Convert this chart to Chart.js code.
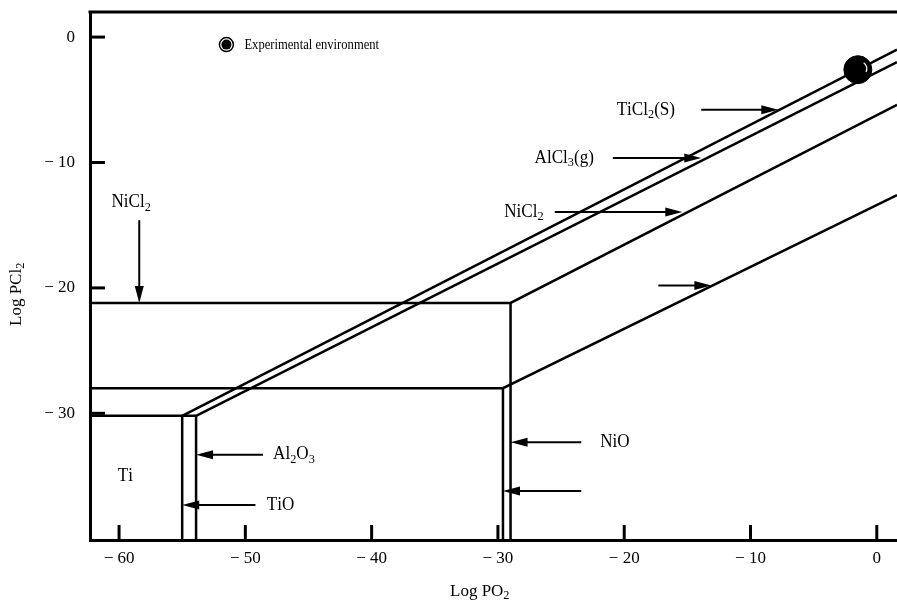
<!DOCTYPE html>
<html>
<head>
<meta charset="utf-8">
<script src="https://cdn.jsdelivr.net/npm/chart.js@4/dist/chart.umd.min.js"></script>
<style>
  html, body { margin: 0; padding: 0; background: #fff; overflow: hidden; }
  canvas { display: block; }
</style>
</head>
<body>
<canvas id="chart" width="897" height="604" style="width:897px;height:604px"></canvas>
<script>
// Axis ticks (Log PO2 / Log PCl2)
const xTicks = [-60, -50, -40, -30, -20, -10, 0];
const yTicks = [0, -10, -20, -30];

// Phase boundaries
const niCl2BoundX = [-62.3, -29.0, 1.6];
const niCl2BoundY = [-21.2, -21.2, -5.4];
const niBoundX = [-62.3, -29.6, 1.6];
const niBoundY = [-28.0, -28.0, -12.6];
const tiBoundX = [-62.3, -53.9];
const tiBoundY = [-30.2, -30.2];
const tiCl2X = [-55.0, 1.6];
const tiCl2Y = [-30.2, -1.0];
const alCl3X = [-53.9, 1.6];
const alCl3Y = [-30.2, -2.0];
const tiOX = [-55.0, -55.0];
const tiOY = [-30.2, -40.1];
const al2O3X = [-53.9, -53.9];
const al2O3Y = [-30.2, -40.1];
const niOX = [-29.0, -29.0];
const niOY = [-21.2, -40.1];
const niX = [-29.6, -29.6];
const niY = [-28.0, -40.1];

// Experimental environment point
const expX = [-1.5];
const expY = [-2.6];

// Labels and arrows (data coordinates)
const labels = [
    { text: 'TiCl_2(S)', x: -20.6, y: -5.8 },
    { text: 'AlCl_3(g)', x: -27.1, y: -9.65 },
    { text: 'NiCl_2', x: -29.5, y: -13.95 },
    { text: 'NiCl_2', x: -60.6, y: -13.2 },
    { text: 'Ti', x: -60.1, y: -35.0 },
    { text: 'Al_2O_3', x: -47.8, y: -33.3 },
    { text: 'TiO', x: -48.3, y: -37.3 },
    { text: 'NiO', x: -21.9, y: -32.3 }
];
const arrows = [
    { x0: -13.9, y0: -5.8, x1: -7.8, y1: -5.8 },
    { x0: -20.9, y0: -9.65, x1: -13.9, y1: -9.65 },
    { x0: -25.5, y0: -13.95, x1: -15.4, y1: -13.95 },
    { x0: -17.3, y0: -19.8, x1: -13.1, y1: -19.8 },
    { x0: -58.4, y0: -14.6, x1: -58.4, y1: -21.2 },
    { x0: -48.6, y0: -33.3, x1: -53.9, y1: -33.3 },
    { x0: -49.2, y0: -37.3, x1: -55.0, y1: -37.3 },
    { x0: -23.4, y0: -32.3, x1: -29.0, y1: -32.3 },
    { x0: -23.4, y0: -36.2, x1: -29.6, y1: -36.2 }
];
const legendPos = { x: -51.5, y: -0.6 };

const FONT = 'Liberation Serif';

function zip(xs, ys) {
    return xs.map((x, i) => ({ x: x, y: ys[i] }));
}

function boundary(xs, ys) {
    return {
        data: zip(xs, ys),
        showLine: true,
        borderColor: '#000',
        borderWidth: 2.5,
        pointRadius: 0,
        fill: false
    };
}

function fmtTick(v) {
    return v === 0 ? '0' : '\u2212 ' + Math.abs(v);
}

// no extra room for the edge tick labels
function noPadding(s) {
    s.paddingLeft = 0;
    s.paddingRight = 0;
    s.paddingTop = 0;
    s.paddingBottom = 0;
}

// Draw text with "_" subscripts, slightly condensed
function drawRich(ctx, str, x, y, size, sx) {
    const parts = [];
    for (let i = 0; i < str.length; i++) {
        if (str[i] === '_') {
            parts.push({ t: str[i + 1], sub: true });
            i++;
        } else {
            parts.push({ t: str[i], sub: false });
        }
    }
    ctx.save();
    ctx.translate(x, y);
    ctx.scale(sx || 1, 1);
    ctx.fillStyle = '#000';
    ctx.textBaseline = 'middle';
    ctx.textAlign = 'left';
    let cx = 0;
    parts.forEach(p => {
        const fs = p.sub ? size * 0.72 : size;
        ctx.font = fs + 'px "' + FONT + '"';
        ctx.fillText(p.t, cx, p.sub ? size * 0.25 : 0);
        cx += ctx.measureText(p.t).width;
    });
    ctx.restore();
}

function drawArrow(ctx, x0, y0, x1, y1) {
    const ang = Math.atan2(y1 - y0, x1 - x0);
    const len = 17, half = 4.5;
    ctx.save();
    ctx.strokeStyle = '#000';
    ctx.fillStyle = '#000';
    ctx.lineWidth = 2;
    ctx.beginPath();
    ctx.moveTo(x0, y0);
    ctx.lineTo(x1 - Math.cos(ang) * len * 0.6, y1 - Math.sin(ang) * len * 0.6);
    ctx.stroke();
    ctx.translate(x1, y1);
    ctx.rotate(ang);
    ctx.beginPath();
    ctx.moveTo(0, 0);
    ctx.lineTo(-len, -half);
    ctx.lineTo(-len, half);
    ctx.closePath();
    ctx.fill();
    ctx.restore();
}

const decorations = {
    id: 'decorations',
    afterDraw(chart) {
        const ctx = chart.ctx;
        const xs = chart.scales.x, ys = chart.scales.y;
        const area = chart.chartArea;

        ctx.save();
        // top frame line
        ctx.strokeStyle = '#000';
        ctx.lineWidth = 3;
        ctx.beginPath();
        ctx.moveTo(area.left - 1.5, area.top);
        ctx.lineTo(area.right, area.top);
        ctx.stroke();

        // inward tick marks
        xTicks.forEach(v => {
            const px = xs.getPixelForValue(v);
            ctx.beginPath();
            ctx.moveTo(px, area.bottom);
            ctx.lineTo(px, area.bottom - 15);
            ctx.stroke();
        });
        yTicks.forEach(v => {
            const py = ys.getPixelForValue(v);
            ctx.beginPath();
            ctx.moveTo(area.left, py);
            ctx.lineTo(area.left + 15, py);
            ctx.stroke();
        });
        ctx.restore();

        // arrows
        arrows.forEach(a => {
            drawArrow(ctx,
                xs.getPixelForValue(a.x0), ys.getPixelForValue(a.y0),
                xs.getPixelForValue(a.x1), ys.getPixelForValue(a.y1));
        });

        // text labels
        labels.forEach(l => {
            drawRich(ctx, l.text, xs.getPixelForValue(l.x), ys.getPixelForValue(l.y), 18, 0.95);
        });

        // legend
        const lx = xs.getPixelForValue(legendPos.x), ly = ys.getPixelForValue(legendPos.y);
        ctx.save();
        ctx.strokeStyle = '#000';
        ctx.fillStyle = '#000';
        ctx.lineWidth = 1.5;
        ctx.beginPath();
        ctx.arc(lx, ly, 7, 0, Math.PI * 2);
        ctx.stroke();
        ctx.beginPath();
        ctx.arc(lx, ly, 5, 0, Math.PI * 2);
        ctx.fill();
        ctx.restore();
        drawRich(ctx, 'Experimental environment', lx + 18, ly, 15, 0.84);

        // highlight on the experimental point
        const ex = xs.getPixelForValue(expX[0]), ey = ys.getPixelForValue(expY[0]);
        ctx.save();
        ctx.strokeStyle = '#fff';
        ctx.lineWidth = 1.2;
        ctx.beginPath();
        ctx.arc(ex + 2, ey - 1, 7, -1.0, 0.5);
        ctx.stroke();
        ctx.restore();

        // axis titles
        drawRich(ctx, 'Log PO_2', 450, 592, 17, 1);
        ctx.save();
        ctx.translate(17, 326);
        ctx.rotate(-Math.PI / 2);
        drawRich(ctx, 'Log PCl_2', 0, 0, 17, 1);
        ctx.restore();
    }
};

const datasets = [
    boundary(niCl2BoundX, niCl2BoundY),
    boundary(niBoundX, niBoundY),
    boundary(tiBoundX, tiBoundY),
    boundary(tiCl2X, tiCl2Y),
    boundary(alCl3X, alCl3Y),
    boundary(tiOX, tiOY),
    boundary(al2O3X, al2O3Y),
    boundary(niOX, niOY),
    boundary(niX, niY),
    {
        data: zip(expX, expY),
        pointRadius: 14,
        pointBackgroundColor: '#000',
        pointBorderColor: '#000',
        borderWidth: 1
    }
];

const tickFont = { family: FONT, size: 17 };

new Chart(document.getElementById('chart'), {
    type: 'scatter',
    data: { datasets: datasets },
    options: {
        responsive: false,
        animation: false,
        layout: { autoPadding: false, padding: { top: 12, right: 0, left: 0, bottom: 0 } },
        plugins: {
            legend: { display: false },
            tooltip: { enabled: false }
        },
        scales: {
            x: {
                type: 'linear',
                min: -62.3,
                max: 1.6,
                afterBuildTicks: s => { s.ticks = xTicks.map(v => ({ value: v })); },
                afterFit: s => { s.height = 64; noPadding(s); },
                grid: { display: false, drawTicks: false },
                border: { display: true, width: 3, color: '#000' },
                ticks: {
                    color: '#000',
                    font: tickFont,
                    padding: 8,
                    maxRotation: 0,
                    autoSkip: false,
                    callback: v => fmtTick(v)
                }
            },
            y: {
                type: 'linear',
                min: -40.1,
                max: 2.0,
                afterBuildTicks: s => { s.ticks = yTicks.map(v => ({ value: v })); },
                afterFit: s => { s.width = 90; noPadding(s); },
                grid: { display: false, drawTicks: false },
                border: { display: true, width: 3, color: '#000' },
                ticks: {
                    color: '#000',
                    font: tickFont,
                    padding: 15,
                    autoSkip: false,
                    callback: v => fmtTick(v)
                }
            }
        }
    },
    plugins: [decorations]
});
</script>
</body>
</html>
